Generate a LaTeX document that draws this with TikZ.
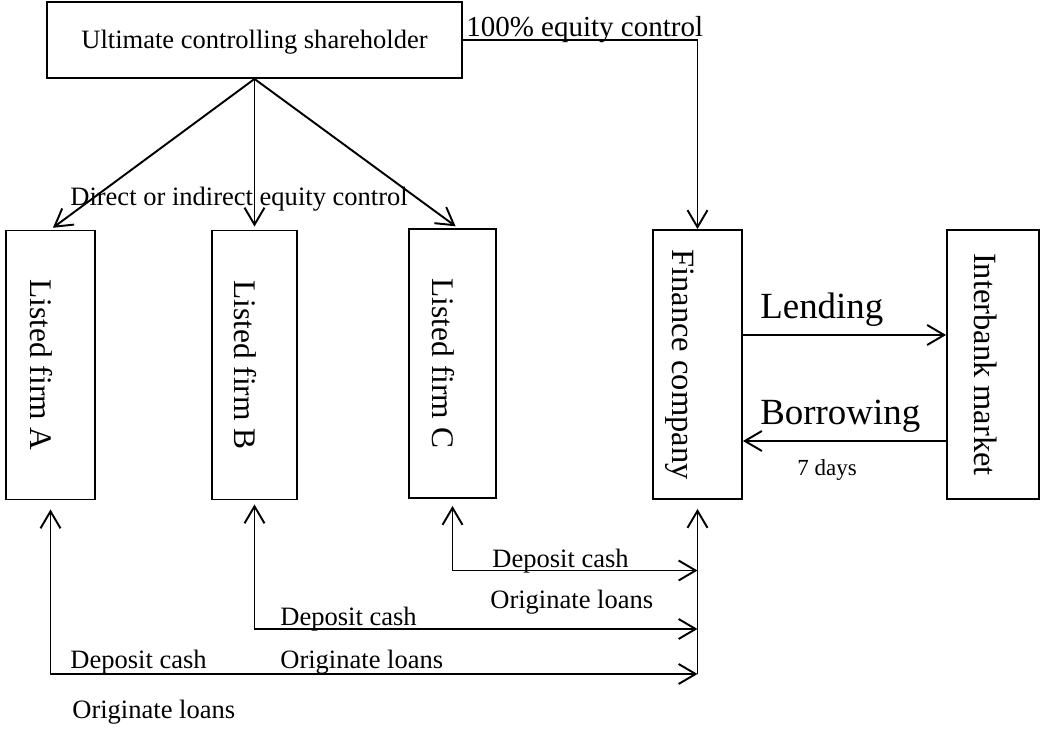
\documentclass[tikz,border=0pt]{standalone}
\usepackage{fontspec}
\setmainfont{Liberation Serif}
\usepackage{graphicx}
\usepackage{tikz}
\usetikzlibrary{calc}
\usetikzlibrary{arrows.meta}
\newcommand{\flowfont}{\fontsize{15.1pt}{18pt}\selectfont}
\newcommand{\firmfont}{\fontsize{17.9pt}{21pt}\selectfont}
\newcommand{\compfont}{\fontsize{18.5pt}{22pt}\selectfont}
\newcommand{\equityfont}{\fontsize{16.5pt}{20pt}\selectfont}
\newcommand{\bigflowfont}{\fontsize{21pt}{25pt}\selectfont}
\newcommand{\dayfont}{\fontsize{13.1pt}{16pt}\selectfont}
\tikzstyle{holderbox} = [rectangle,
minimum width=8.3cm,
minimum height=1.52cm,
inner sep=0pt,
text height=1.3em,
draw=black,
line width=1.1pt,
font=\flowfont]
\tikzstyle{firmbox} = [rectangle,
minimum height=5.38cm,
inner sep=0pt,
draw=black,
line width=1.1pt,
font=\firmfont]
\tikzstyle{flowlabel} = [inner sep=0pt, anchor=base west, font=\flowfont]
\tikzstyle{arrow} = [line width=1.1pt,-{Straight Barb[length=0.34cm,width=0.4cm]}]
\tikzstyle{twoway} = [line width=1.1pt,{Straight Barb[length=0.34cm,width=0.4cm]}-{Straight Barb[length=0.34cm,width=0.4cm]}]
\begin{document}
\begin{tikzpicture}[x=0.02cm, y=-0.02cm]
    \useasboundingbox (0,0) rectangle (1041,729);

    \node (holder) [holderbox] at (254.5,40) {Ultimate controlling shareholder};

    \node (firmA) [firmbox, minimum width=1.78cm] at (50.5,365) {\rotatebox{-90}{Listed firm A}\rule{0.38cm}{0pt}};
    \node (firmB) [firmbox, minimum width=1.70cm] at (254.5,365) {\rotatebox{-90}{Listed firm B}\rule{0.38cm}{0pt}};
    \node (firmC) [firmbox, minimum width=1.74cm] at (452.5,363.5) {\rotatebox{-90}{Listed firm C}\rule{0.38cm}{0pt}};
    \node (fin) [firmbox, minimum width=1.78cm, font=\compfont] at (697.5,364.5) {\rotatebox{-90}{Finance company}\rule{0.7cm}{0pt}};
    \node (bank) [firmbox, minimum width=1.84cm, font=\compfont] at (993,364.5) {\rotatebox{-90}{Interbank market}\rule{0.28cm}{0pt}};

    % Equity control
    \draw [arrow, shorten >=0.06cm] (holder.south) -- (firmA.north);
    \draw [arrow, shorten >=0.06cm] (holder.south) -- (firmB.north);
    \draw [arrow, shorten >=0.06cm] (holder.south) -- ($(firmC.north)+(5.5,0)$);
    \node (ctrllabel) [flowlabel] at (70,206) {Direct or indirect equity control};

    \draw [arrow] (holder.east) -| (fin.north);
    \node (equitylabel) [flowlabel, font=\equityfont] at (466,37) {100\% equity control};

    % Interbank market
    \coordinate (lendrow) at (0,335);
    \coordinate (borrowrow) at (0,441);
    \draw [arrow] (fin.east |- lendrow) -- (bank.west |- lendrow);
    \draw [arrow] (bank.west |- borrowrow) -- (fin.east |- borrowrow);
    \node (lendlabel) [flowlabel, font=\bigflowfont] at (760,319) {Lending};
    \node (borrowlabel) [flowlabel, font=\bigflowfont] at (760,424) {Borrowing};
    \node (daylabel) [flowlabel, font=\dayfont] at (797,475) {7 days};

    % Deposits and loans
    \coordinate (rowC) at (0,570.5);
    \coordinate (rowB) at (0,629);
    \coordinate (rowA) at (0,674);
    \draw [twoway, shorten <=0.14cm] (firmC.south) -- (firmC.south |- rowC) -- (fin.south |- rowC);
    \draw [twoway, shorten <=0.08cm] (firmB.south) -- (firmB.south |- rowB) -- (fin.south |- rowB);
    \draw [twoway, shorten <=0.18cm] (firmA.south) -- (firmA.south |- rowA) -- (fin.south |- rowA);
    \draw [arrow, shorten >=0.18cm] (fin.south |- rowA) -- (fin.south);

    \node (depositC) [flowlabel] at (492,567) {Deposit cash};
    \node (loansC) [flowlabel] at (490,608) {Originate loans};
    \node (depositB) [flowlabel] at (280,625) {Deposit cash};
    \node (loansB) [flowlabel] at (280,668) {Originate loans};
    \node (depositA) [flowlabel] at (70,668) {Deposit cash};
    \node (loansA) [flowlabel] at (72,718) {Originate loans};
  \end{tikzpicture}
\end{document}
